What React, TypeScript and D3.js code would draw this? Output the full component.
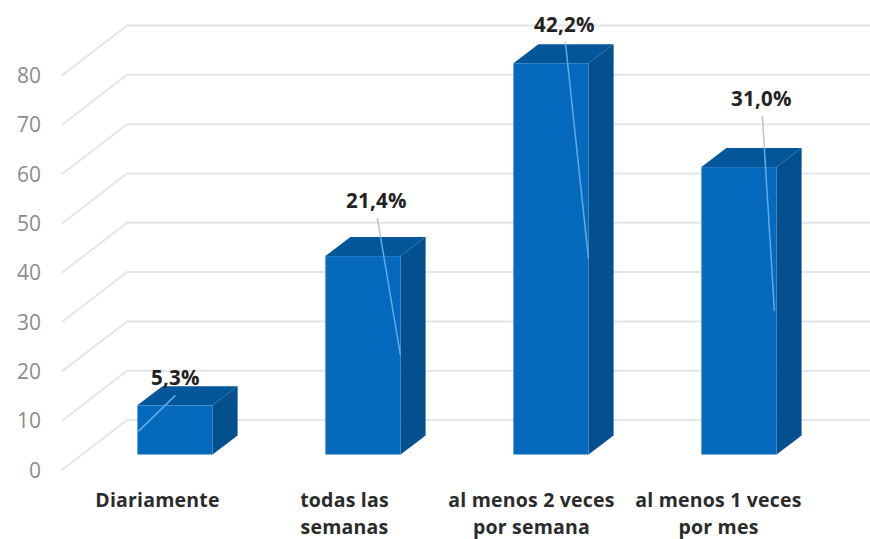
import React from "react";
import * as d3 from "d3";

// Frequency categories with their share of the 188 responses.
const categories = ["Diariamente", "todas las semanas", "al menos 2 veces por semana", "al menos 1 veces por mes"];
const categoryLines = [["Diariamente"], ["todas las", "semanas"], ["al menos 2 veces", "por semana"], ["al menos 1 veces", "por mes"]];
const percentages = [5.3, 21.4, 42.2, 31.0];
const percentLabels = ["5,3%", "21,4%", "42,2%", "31,0%"];
const respondents = 188;
const yTicks = [0, 10, 20, 30, 40, 50, 60, 70, 80];

const WIDTH = 870;
const HEIGHT = 539;
const DX = 25;
const DY = 19;
const FONT = "'Open Sans', Lato, sans-serif";

// Bars stand on the middle plane; the wall sits behind it and the axis in front.
const y = d3.scaleLinear().domain([0, 80]).range([454.5, 60]);
const x = d3.scaleBand<string>().domain(categories).range([81, 833]).paddingInner(0.6).paddingOuter(0.3);
const labelX = d3.scaleBand<string>().domain(categories).range([64, 812]);

// Leader lines run from each label into its bar, as offsets from the bar's left edge and top.
const leaders = [
  { from: [38, -10], to: [1, 26] },
  { from: [52, -38], to: [75, 99] },
  { from: [52, -21], to: [75, 195] },
  { from: [61, -51], to: [73, 144] },
];
// Value label centres, relative to the same corner.
const valueOffsets = [
  [38, -20],
  [51, -48],
  [51, -31],
  [60, -61],
];

const points = (p: number[][]) => p.map((q) => q.join(",")).join(" ");

export default function App() {
  return (
    <svg
      width={WIDTH}
      height={HEIGHT}
      viewBox={`0 0 ${WIDTH} ${HEIGHT}`}
      style={{ position: "absolute", left: 0, top: 0, background: "#fff" }}
    >
      <g fill="none" stroke="#e6e6e6" strokeWidth={2}>
        {yTicks.map((t) => {
          const wall = y(t) - 34.5;
          return (
            <polyline
              key={t}
              points={points([
                [62, wall + 50],
                [127, wall],
                [870, wall],
              ])}
            />
          );
        })}
      </g>
      {yTicks.map((t) => (
        <text
          key={t}
          x={41}
          y={y(t) + 23}
          textAnchor="end"
          fontFamily={FONT}
          fontSize={21}
          fill="#8c8c8c"
        >
          {t}
        </text>
      ))}
      {categories.map((c, i) => {
        const x0 = x(c)!;
        const x1 = x0 + x.bandwidth();
        const top = y((percentages[i] * respondents) / 100);
        const bottom = y(0);
        const leader = leaders[i];
        const lx1 = x0 + leader.from[0];
        const ly1 = top + leader.from[1];
        const lx2 = x0 + leader.to[0];
        const ly2 = top + leader.to[1];
        // The part of the leader above the bar is grey, the part over it is light blue.
        const t = Math.max(0, (top - DY - ly1) / (ly2 - ly1));
        const lxm = lx1 + t * (lx2 - lx1);
        const lym = ly1 + t * (ly2 - ly1);
        return (
          <g key={c}>
            <polygon
              fill="#044f8e"
              points={points([
                [x1, top],
                [x1 + DX, top - DY],
                [x1 + DX, bottom - DY],
                [x1, bottom],
              ])}
            />
            <polygon
              fill="#04569b"
              points={points([
                [x0, top],
                [x0 + DX, top - DY],
                [x1 + DX, top - DY],
                [x1, top],
              ])}
            />
            <rect x={x0} y={top} width={x.bandwidth()} height={bottom - top} fill="#0569bd" />
            <line x1={lx1} y1={ly1} x2={lxm} y2={lym} stroke="#c4c4c4" strokeWidth={1.5} />
            <line x1={lxm} y1={lym} x2={lx2} y2={ly2} stroke="#63abe6" strokeWidth={1.5} />
            <text
              x={x0 + valueOffsets[i][0]}
              y={top + valueOffsets[i][1]}
              textAnchor="middle"
              fontFamily={FONT}
              fontWeight={700}
              fontSize={20.5}
              letterSpacing={0.3}
              fill="#222"
            >
              {percentLabels[i]}
            </text>
            {categoryLines[i].map((line, j) => (
              <text
                key={line}
                x={labelX(c)! + labelX.step() / 2}
                y={507 + j * 27}
                textAnchor="middle"
                fontFamily={FONT}
                fontWeight={700}
                fontSize={19.5}
                letterSpacing={0.2}
                fill="#2b2b2b"
              >
                {line}
              </text>
            ))}
          </g>
        );
      })}
    </svg>
  );
}
